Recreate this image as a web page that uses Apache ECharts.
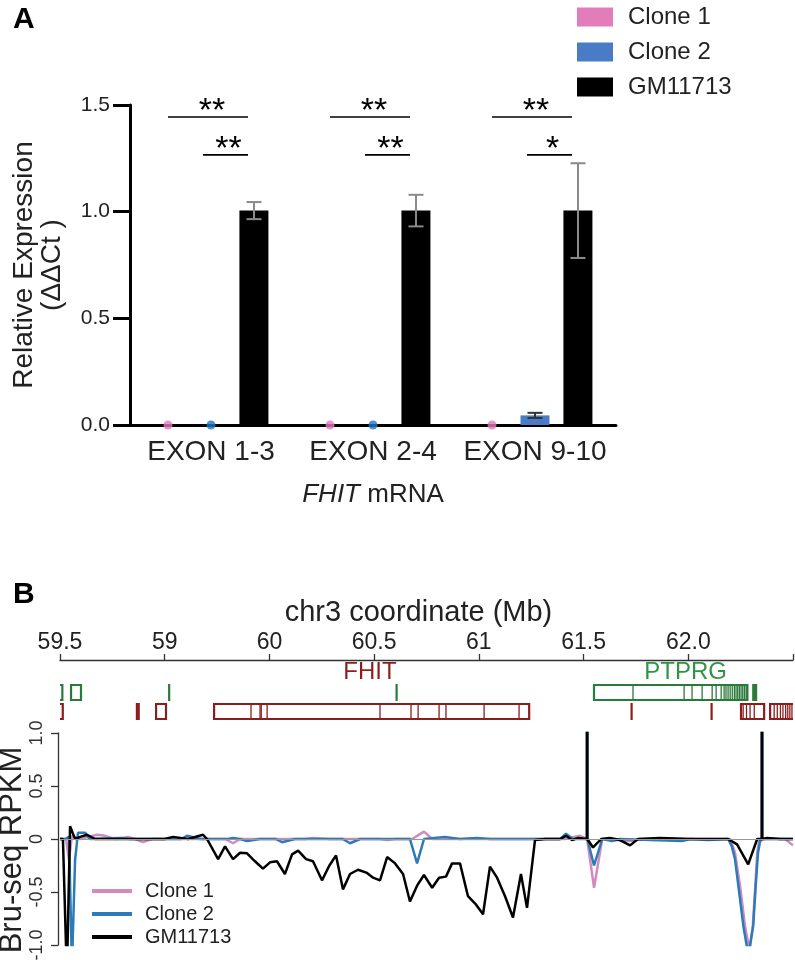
<!DOCTYPE html>
<html>
<head>
<meta charset="utf-8">
<script src="https://cdn.jsdelivr.net/npm/echarts@6/dist/echarts.min.js"></script>
<style>html,body{margin:0;padding:0;background:#fff}#c{width:795px;height:966px}</style>
</head>
<body>
<div id="c"></div>
<script>
// ---------- Panel A data ----------
const groups = ['EXON 1-3', 'EXON 2-4', 'EXON 9-10'];
const clone1Expr = [0, 0, 0];
const clone2Expr = [0, 0, 0.045];
const clone2Err = [0, 0, 0.012];
const gmExpr = [1.005, 1.005, 1.005];
const gmErr = [0.04, 0.074, 0.222];
const sigOuter = ['**', '**', '**'];   // Clone 1 vs GM11713
const sigInner = ['**', '**', '*'];    // Clone 2 vs GM11713
const sigOuterLevel = 1.444;
const sigInnerLevel = 1.266;

// ---------- Panel B data ----------
const coordTickLabels = ['59.5', '59', '60', '60.5', '61', '61.5', '62.0', ''];
const rpkmTickLabels = ['-1.0', '-0.5', '0', '0.5', '1.0'];

const clone1Pos = [59.000,59.029,59.043,59.057,59.096,59.177,59.215,59.263,59.325,59.358,59.396,59.439,59.790,59.826,59.860,60.170,60.208,60.289,60.528,60.562,60.600,60.681,60.738,60.777,61.411,61.483,61.517,61.550,61.589,61.722,61.770,62.200,62.223,62.247,62.271,62.292,62.308,62.320,62.329,62.338,62.367,62.462,62.500];
const clone1Val = [0,0,-0.2,0.03,0,0.04,0.03,0,0.02,0,-0.03,0,0,-0.04,0,0,0.01,0,0,-0.01,0,0,0.07,0,0,0.03,0,-0.46,0,-0.02,0,0,-0.13,-0.44,-0.82,-1.05,-0.82,-0.44,-0.13,-0.02,0,0,-0.06];

const clone2Pos = [59.000,59.024,59.043,59.057,59.072,59.086,59.119,59.143,59.287,59.334,59.580,59.606,59.669,59.800,59.826,59.860,59.893,59.955,60.030,60.060,60.122,60.350,60.385,60.433,60.671,60.705,60.738,60.838,60.910,60.991,61.053,61.388,61.416,61.450,61.516,61.517,61.518,61.550,61.589,61.636,61.674,61.970,62.009,62.095,62.190,62.208,62.223,62.239,62.263,62.287,62.310,62.322,62.333,62.343,62.351,62.352,62.353,62.500];
const clone2Val = [0,0,0.02,-1.2,-0.2,0.06,0.06,0,0.01,0,0,0.03,0,0,0.01,0,-0.02,0,0,-0.03,0,0,-0.04,0,0,-0.23,0,0.02,0,0.01,0,0,0.05,0,0,35,0,-0.25,0,-0.02,0,-0.02,0,-0.01,0,-0.07,-0.19,-0.44,-0.82,-1.1,-0.82,-0.44,-0.13,-0.02,0,35,0,0];

const gmPos = [59.000,59.014,59.033,59.048,59.072,59.096,59.129,59.167,59.500,59.540,59.611,59.683,59.702,59.755,59.788,59.826,59.860,59.893,59.931,59.969,60.003,60.036,60.074,60.108,60.137,60.175,60.208,60.251,60.285,60.318,60.351,60.385,60.423,60.466,60.495,60.528,60.562,60.600,60.638,60.671,60.705,60.738,60.777,60.810,60.843,60.872,60.910,60.948,60.987,61.020,61.053,61.087,61.125,61.163,61.201,61.230,61.268,61.316,61.388,61.416,61.445,61.474,61.516,61.517,61.518,61.545,61.584,61.626,61.674,61.722,61.760,61.865,62.009,62.190,62.233,62.286,62.329,62.351,62.352,62.353,62.376,62.438,62.500];
const gmVal = [0,0,-1.3,0.12,0,0.02,0.04,0,0,0.02,0,0.04,0,-0.19,-0.07,-0.19,-0.13,-0.135,-0.21,-0.28,-0.22,-0.21,-0.33,-0.145,-0.11,-0.19,-0.21,-0.39,-0.255,-0.155,-0.475,-0.33,-0.29,-0.32,-0.365,-0.39,-0.17,-0.23,-0.33,-0.59,-0.44,-0.34,-0.46,-0.365,-0.355,-0.23,-0.23,-0.54,-0.62,-0.71,-0.26,-0.365,-0.54,-0.74,-0.33,-0.65,-0.01,0,0,0.03,-0.01,0.01,0,40,0,-0.08,0,0.01,-0.01,-0.06,0,0.01,0,0,-0.05,-0.24,0,0,40,0,0.01,0,0];

// gene models: [start Mb, end Mb, row]  (row 1 = green track, row 0 = red track)
const greenGenes = [[58.97,59.016,1],[59.048,59.105,1],[59.516,59.521,1],[60.602,60.607,1],[61.545,62.287,1],[62.305,62.329,1]];
const greenExons = [61.736,61.98,62.018,62.066,62.114,62.133,62.157,62.171,62.18,62.19,62.2,62.21,62.22,62.228,62.236,62.244,62.252,62.26,62.268,62.276];
const redGenes = [[58.97,59.018,0],[59.362,59.381,0],[59.454,59.511,0],[59.731,61.245,0],[61.724,61.731,0],[62.106,62.113,0],[62.247,62.367,0],[62.386,62.6,0]];
const redExons = [59.912,59.955,59.961,59.989,60.528,60.676,60.71,60.81,60.843,61.025,61.192,62.262,62.278,62.295,62.315,62.41,62.425,62.44,62.452,62.465,62.475,62.485,62.495];
const geneLabels = [['FHIT', 60.48, 0], ['PTPRG', 61.987, 1]];

// ---------- styling ----------
const FONT = 'Liberation Sans, Arial, Helvetica, sans-serif';
const PINK_A = '#e27cbb', BLUE_A = '#4a7cc6';
const PINK_B = '#d28bbf', BLUE_B = '#2b7bba';
const RED = '#8b1d1d', GREEN = '#2a7a3a', GREEN_TXT = '#2f9446';
const BAR_W = 29, BAR_GAP = 14, OFF = BAR_W + BAR_GAP;

const chart = echarts.init(document.getElementById('c'), null, {renderer: 'canvas'});

function errRender(slot, color) {
  return function (params, api) {
    const c = api.value(0), m = api.value(1), e = api.value(2);
    if (!e) return null;
    const top = api.coord([c, m + e]), bot = api.coord([c, m - e]);
    const x = top[0] + slot * OFF, cap = 7.5;
    const st = {stroke: color, lineWidth: 2};
    return {type: 'group', children: [
      {type: 'line', shape: {x1: x, y1: top[1], x2: x, y2: bot[1]}, style: st},
      {type: 'line', shape: {x1: x - cap, y1: top[1], x2: x + cap, y2: top[1]}, style: st},
      {type: 'line', shape: {x1: x - cap, y1: bot[1], x2: x + cap, y2: bot[1]}, style: st}
    ]};
  };
}

function sigRender(params, api) {
  const i = params.dataIndex;
  const out = api.coord([i, sigOuterLevel]);
  const inn = api.coord([i, sigInnerLevel]);
  const cx = out[0];
  const ls = {stroke: '#000', lineWidth: 1.6};
  const ts = (txt, x, y) => ({type: 'text', x: x, y: y, style: {text: txt, fill: '#000', fontSize: 34, fontFamily: FONT, align: 'center', verticalAlign: 'middle'}});
  const ox1 = cx - OFF, ox2 = cx + OFF - 6;
  const ix1 = cx - 8, ix2 = cx + OFF - 6;
  return {type: 'group', children: [
    {type: 'line', shape: {x1: ox1, y1: out[1], x2: ox2, y2: out[1]}, style: ls},
    {type: 'line', shape: {x1: ix1, y1: inn[1], x2: ix2, y2: inn[1]}, style: ls},
    ts(sigOuter[i], (ox1 + ox2) / 2 + 4, out[1] - 5),
    ts(sigInner[i], (ix1 + ix2) / 2 + 3, inn[1] - 5)
  ]};
}

function geneRender(color) {
  return function (params, api) {
    const s = api.value(0), e = api.value(1), row = api.value(2);
    const a = api.coord([s, row + 1]), b = api.coord([e, row]);
    const x = a[0], y = a[1] + 1, w = b[0] - a[0], h = b[1] - a[1] - 2;
    if (w < 6) return {type: 'rect', shape: {x: x, y: y, width: Math.max(w, 2.2), height: h}, style: {fill: color}};
    return {type: 'rect', shape: {x: x + 1, y: y + 1, width: w - 2, height: h - 2}, style: {fill: 'none', stroke: color, lineWidth: 2.2}};
  };
}
function exonRender(color) {
  return function (params, api) {
    const p = api.value(0), row = api.value(1);
    const a = api.coord([p, row + 1]), b = api.coord([p, row]);
    return {type: 'line', shape: {x1: a[0], y1: a[1] + 2, x2: b[0], y2: b[1] - 2}, style: {stroke: color, lineWidth: 1.3}};
  };
}
function labelRender(params, api) {
  const i = params.dataIndex;
  const p = api.coord([geneLabels[i][1], 2]);
  const col = geneLabels[i][2] === 1 ? GREEN_TXT : RED;
  return {type: 'text', x: p[0], y: p[1] - 11, style: {text: geneLabels[i][0], fill: col, fontSize: 24, fontFamily: FONT, align: 'center', verticalAlign: 'middle'}};
}

const zeroDots = (vals) => vals.map((v, i) => v === 0 ? [i, 0] : null).filter(d => d);

const option = {
  animation: false,
  textStyle: {fontFamily: FONT},
  title: [
    {text: 'A', left: 8, top: 0, textStyle: {fontSize: 30, fontWeight: 'bold', color: '#000', fontFamily: FONT}},
    {text: 'B', left: 8, top: 575, textStyle: {fontSize: 30, fontWeight: 'bold', color: '#000', fontFamily: FONT}}
  ],
  legend: [
    {data: ['Clone 1', 'Clone 2', 'GM11713'], orient: 'vertical', left: 572, top: 0, icon: 'rect',
     itemWidth: 36, itemHeight: 19, itemGap: 11,
     textStyle: {fontSize: 24, color: '#222', fontFamily: FONT, padding: [0, 0, 0, 10]}},
    {data: ['Bru Clone 1', 'Bru Clone 2', 'Bru GM11713'], orient: 'vertical', left: 87, top: 876, icon: 'rect',
     itemWidth: 40, itemHeight: 4, itemGap: 3, formatter: n => n.replace('Bru ', ''),
     textStyle: {fontSize: 20, color: '#222', fontFamily: FONT, padding: [0, 0, 0, 8]}}
  ],
  grid: [
    {left: 130, top: 105, width: 486, height: 320, outerBoundsMode: 'none', containLabel: false},
    {left: 60, top: 733, width: 733, height: 212, outerBoundsMode: 'none', containLabel: false},
    {left: 60, top: 683, width: 733, height: 38, outerBoundsMode: 'none', containLabel: false}
  ],
  xAxis: [
    {gridIndex: 0, type: 'category', data: groups,
     axisLine: {lineStyle: {color: '#000', width: 3}}, axisTick: {show: false},
     axisLabel: {fontSize: 28, color: '#222', margin: 13, fontFamily: FONT, interval: 0, hideOverlap: false},
     name: '{i|FHIT} mRNA', nameLocation: 'middle', nameGap: 57, nameMoveOverlap: false,
     nameTextStyle: {fontSize: 26, color: '#222', fontFamily: FONT, rich: {i: {fontStyle: 'italic', fontSize: 26, color: '#222', fontFamily: FONT}}}},
    {gridIndex: 1, type: 'value', position: 'top', offset: 73, min: 59, max: 62.5, interval: 0.5,
     axisLine: {onZero: false, lineStyle: {color: '#333', width: 1.3}},
     axisTick: {length: 6, lineStyle: {color: '#333', width: 1.3}},
     axisLabel: {fontSize: 23, color: '#222', margin: 6, fontFamily: FONT, showMaxLabel: true,
                 formatter: v => coordTickLabels[Math.round((v - 59) / 0.5)]},
     splitLine: {show: false},
     name: 'chr3 coordinate (Mb)', nameLocation: 'middle', nameGap: 33, nameMoveOverlap: false,
     nameTextStyle: {fontSize: 29, color: '#222', fontFamily: FONT, padding: [0, 16, 0, 0]}},
    {gridIndex: 2, type: 'value', min: 59, max: 62.5, show: false}
  ],
  yAxis: [
    {gridIndex: 0, type: 'value', min: 0, max: 1.5, interval: 0.5,
     axisLine: {show: true, lineStyle: {color: '#000', width: 3}},
     axisTick: {show: true, length: 17, lineStyle: {color: '#000', width: 3}},
     axisLabel: {fontSize: 21, color: '#222', margin: 20, fontFamily: FONT, formatter: v => v.toFixed(1)},
     splitLine: {show: false},
     name: 'Relative Expression\n(ΔΔCt )', nameLocation: 'middle', nameGap: 64, nameMoveOverlap: false,
     nameTextStyle: {fontSize: 28, lineHeight: 28, color: '#222', fontFamily: FONT}},
    {gridIndex: 1, type: 'value', min: -1, max: 1, interval: 0.5, offset: 2,
     axisLine: {show: true, lineStyle: {color: '#333', width: 1.3}},
     axisTick: {show: true, length: 7, lineStyle: {color: '#333', width: 1.3}},
     axisLabel: {fontSize: 18, color: '#333', rotate: 90, margin: 12, fontFamily: FONT,
                 formatter: v => rpkmTickLabels[Math.round((v + 1) / 0.5)]},
     splitLine: {show: false},
     name: 'Bru-seq RPKM', nameLocation: 'middle', nameGap: 30, nameMoveOverlap: false,
     nameTextStyle: {fontSize: 31, color: '#222', fontFamily: FONT, padding: [0, 22, 0, 0]}},
    {gridIndex: 2, type: 'value', min: 0, max: 2, show: false}
  ],
  series: [
    // Panel A bars
    {name: 'Clone 1', type: 'bar', xAxisIndex: 0, yAxisIndex: 0, data: clone1Expr, barWidth: BAR_W, barGap: (BAR_GAP / BAR_W * 100).toFixed(0) + '%', itemStyle: {color: PINK_A}},
    {name: 'Clone 2', type: 'bar', xAxisIndex: 0, yAxisIndex: 0, data: clone2Expr, barWidth: BAR_W, itemStyle: {color: BLUE_A}},
    {name: 'GM11713', type: 'bar', xAxisIndex: 0, yAxisIndex: 0, data: gmExpr, barWidth: BAR_W, itemStyle: {color: '#000'}},
    {name: 'Clone 1', type: 'scatter', xAxisIndex: 0, yAxisIndex: 0, data: zeroDots(clone1Expr), symbolSize: 9, symbolOffset: [-OFF, 0], itemStyle: {color: PINK_A}, z: 5},
    {name: 'Clone 2', type: 'scatter', xAxisIndex: 0, yAxisIndex: 0, data: zeroDots(clone2Expr), symbolSize: 9, itemStyle: {color: '#1f77c4'}, z: 5},
    {type: 'custom', xAxisIndex: 0, yAxisIndex: 0, renderItem: errRender(1, '#8a8a8a'), data: gmExpr.map((v, i) => [i, v, gmErr[i]]), z: 6},
    {type: 'custom', xAxisIndex: 0, yAxisIndex: 0, renderItem: errRender(0, '#333'), data: clone2Expr.map((v, i) => [i, v, clone2Err[i]]), z: 6},
    {type: 'custom', xAxisIndex: 0, yAxisIndex: 0, renderItem: sigRender, data: groups.map((g, i) => [i, sigOuterLevel]), z: 6},
    // Panel B gene models
    {type: 'custom', xAxisIndex: 2, yAxisIndex: 2, clip: true, renderItem: geneRender(GREEN), data: greenGenes},
    {type: 'custom', xAxisIndex: 2, yAxisIndex: 2, clip: true, renderItem: exonRender(GREEN), data: greenExons.map(p => [p, 1])},
    {type: 'custom', xAxisIndex: 2, yAxisIndex: 2, clip: true, renderItem: geneRender(RED), data: redGenes},
    {type: 'custom', xAxisIndex: 2, yAxisIndex: 2, clip: true, renderItem: exonRender(RED), data: redExons.map(p => [p, 0])},
    {type: 'custom', xAxisIndex: 2, yAxisIndex: 2, renderItem: labelRender, data: geneLabels.map(g => [g[1], 2])},
    // Panel B Bru-seq lines
    {name: 'Bru Clone 1', type: 'line', xAxisIndex: 1, yAxisIndex: 1, showSymbol: false, clip: true,
     data: clone1Pos.map((p, i) => [p, clone1Val[i]]), lineStyle: {color: PINK_B, width: 2.5}, itemStyle: {color: PINK_B},
     markLine: {silent: true, symbol: 'none', label: {show: false}, lineStyle: {color: '#999', width: 1, type: 'solid'}, data: [{yAxis: 0}]}},
    {name: 'Bru Clone 2', type: 'line', xAxisIndex: 1, yAxisIndex: 1, showSymbol: false, clip: true,
     data: clone2Pos.map((p, i) => [p, clone2Val[i]]), lineStyle: {color: BLUE_B, width: 2.5}, itemStyle: {color: BLUE_B}},
    {name: 'Bru GM11713', type: 'line', xAxisIndex: 1, yAxisIndex: 1, showSymbol: false, clip: true,
     data: gmPos.map((p, i) => [p, gmVal[i]]), lineStyle: {color: '#000', width: 2.5}, itemStyle: {color: '#000'}}
  ]
};
chart.setOption(option);
</script>
</body>
</html>
